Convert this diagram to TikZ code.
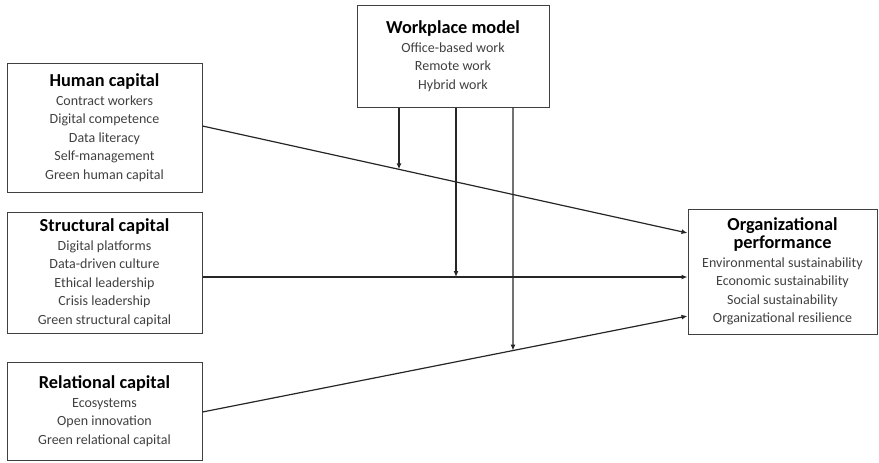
\documentclass[tikz,border=0pt]{standalone}
\usepackage{fontspec}
\setmainfont{Carlito}
\usetikzlibrary{arrows.meta,calc}
\definecolor{boxline}{HTML}{404040}
\definecolor{subtext}{HTML}{404040}
\definecolor{connline}{HTML}{262626}
\tikzset{
  box/.style={draw=boxline, line width=1pt, rectangle, align=center, inner sep=0pt,
    font=\fontsize{14}{18.5}\selectfont, text=subtext},
  conn/.style={draw=connline, line width=1.2pt, -{Latex[length=6pt,width=5pt]}},
}
\newcommand{\ttl}[1]{{\fontsize{18.3}{19}\selectfont\bfseries\color{black}#1}}
\begin{document}
\begin{tikzpicture}[x=1pt,y=-1pt]
\useasboundingbox (0,0) rectangle (879,463);
\node[box, minimum width=195pt, minimum height=129pt] (hc) at (104.5,127.5)
  {\ttl{Human capital}\\Contract workers\\Digital competence\\Data literacy\\Self-management\\Green human capital};
\node[box, minimum width=195pt, minimum height=121pt] (sc) at (104.5,272.5)
  {\ttl{Structural capital}\\Digital platforms\\Data-driven culture\\Ethical leadership\\Crisis leadership\\Green structural capital};
\node[box, minimum width=195pt, minimum height=98pt] (rc) at (104.5,411)
  {\ttl{Relational capital}\\Ecosystems\\Open innovation\\Green relational capital};
\node[box, minimum width=192pt, minimum height=102pt] (wp) at (453,56)
  {\ttl{Workplace model}\\Office-based work\\Remote work\\Hybrid work};
\node[box, minimum width=189pt, minimum height=125pt] (op) at (782.5,271.5)
  {\ttl{Organizational}\\\ttl{performance}\\Environmental sustainability\\Economic sustainability\\Social sustainability\\Organizational resilience};
% main paths
\coordinate (h1) at ([yshift=1.5pt]hc.east);
\coordinate (h2) at ([yshift=38.5pt]op.west);
\coordinate (s1) at ([yshift=-4.5pt]sc.east);
\coordinate (s2) at ([yshift=-5.5pt]op.west);
\coordinate (r1) at ([yshift=-1pt]rc.east);
\coordinate (r2) at ([yshift=-44.5pt]op.west);
\draw[conn] (h1) -- (h2);
\draw[conn] (s1) -- (s2);
\draw[conn] (r1) -- (r2);
% moderators
\coordinate (t1) at ([xshift=-54pt]wp.south);
\coordinate (t2) at ([xshift=3pt]wp.south);
\coordinate (t3) at ([xshift=60pt]wp.south);
\coordinate (b1) at (t1 |- rc.south);
\coordinate (b2) at (t2 |- rc.south);
\coordinate (b3) at (t3 |- rc.south);
\draw[conn] (t1) -- (intersection of h1--h2 and t1--b1);
\draw[conn] (t2) -- (intersection of s1--s2 and t2--b2);
\draw[conn] (t3) -- (intersection of r1--r2 and t3--b3);
\end{tikzpicture}
\end{document}
